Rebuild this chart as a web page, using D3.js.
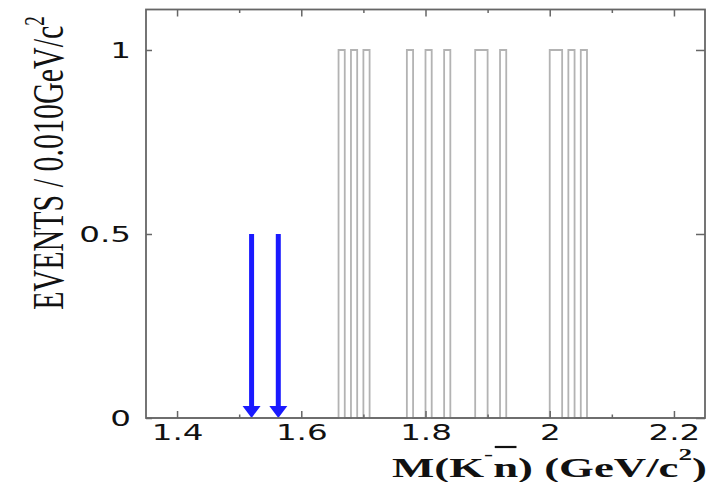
<!DOCTYPE html>
<html>
<head>
<meta charset="utf-8">
<script src="https://cdn.jsdelivr.net/npm/d3@7"></script>
<style>
  html, body { margin: 0; padding: 0; background: #fff; }
  svg { display: block; }
</style>
</head>
<body>
<svg id="chart" width="711" height="482"></svg>
<script>
// Candidate masses, one entry per event (lower edge of its 0.010 GeV/c^2 bin)
const eventBins = [1.66, 1.68, 1.70, 1.77, 1.80, 1.83, 1.88, 1.89, 1.92, 2.00, 2.01, 2.03, 2.05];
const binWidth = 0.010;
const massRange = [1.35, 2.25];
const countRange = [0, 1.11];

// Expected resonance positions marked with arrows
const arrowMasses = [1.520, 1.563];
const arrowTop = 0.5;

// Axis ticks and labels
const xMajorTicks = [1.4, 1.6, 1.8, 2.0, 2.2];
const xMajorLabels = ["1.4", "1.6", "1.8", "2", "2.2"];
const xMinorTicks = [1.5, 1.7, 1.9, 2.1];
const yTicks = [0, 0.5, 1];
const yTickLabels = ["0", "0.5", "1"];

const svg = d3.select("#chart");
const frame = { left: 146, right: 705, top: 9.5, bottom: 418 };

const x = d3.scaleLinear().domain(massRange).range([frame.left, frame.right]);
const y = d3.scaleLinear().domain(countRange).range([frame.bottom, frame.top]);

// Fill the histogram
const nBins = Math.round((massRange[1] - massRange[0]) / binWidth);
const counts = new Array(nBins).fill(0);
eventBins.forEach(m => { counts[Math.round((m - massRange[0]) / binWidth)] += 1; });
const steps = counts.map((c, i) => [massRange[0] + i * binWidth, c]);
steps.push([massRange[1], counts[nBins - 1]]);

const stepLine = d3.line()
  .x(d => x(d[0]))
  .y(d => y(d[1]))
  .curve(d3.curveStepAfter);

svg.append("path")
  .datum(steps)
  .attr("d", stepLine)
  .attr("fill", "none")
  .attr("stroke", "#b3b3b3")
  .attr("stroke-width", 1.8);

// Arrows
const arrowColor = "#1a1aff";
arrowMasses.forEach(m => {
  const ax = x(m);
  svg.append("line")
    .attr("x1", ax).attr("x2", ax)
    .attr("y1", y(arrowTop)).attr("y2", y(0) - 8)
    .attr("stroke", arrowColor).attr("stroke-width", 5);
  svg.append("path")
    .attr("d", `M${ax - 9},${y(0) - 12} L${ax + 9},${y(0) - 12} L${ax},${y(0)} Z`)
    .attr("fill", arrowColor);
});

// Axes with inward ticks (bottom, top, left, right)
const styleAxis = g => {
  g.select(".domain").remove();
  g.selectAll("line").attr("stroke", "#666").attr("stroke-width", 1.5);
};

const xMinor = (axisFn, ty, len) => svg.append("g")
  .attr("transform", `translate(0,${ty})`)
  .call(axisFn(x).tickValues(xMinorTicks).tickSizeInner(len).tickSizeOuter(0).tickFormat(""))
  .call(styleAxis);

xMinor(d3.axisBottom, frame.bottom, -3.5);
xMinor(d3.axisTop, frame.top, -3.5);

svg.append("g")
  .attr("transform", `translate(0,${frame.top})`)
  .call(d3.axisTop(x).tickValues(xMajorTicks).tickSizeInner(-7).tickSizeOuter(0).tickFormat(""))
  .call(styleAxis);

const xAxis = svg.append("g")
  .attr("transform", `translate(0,${frame.bottom})`)
  .call(d3.axisBottom(x).tickValues(xMajorTicks).tickSizeInner(-7).tickSizeOuter(0)
    .tickFormat((d, i) => xMajorLabels[i]))
  .call(styleAxis);
xAxis.selectAll("text")
  .attr("y", 22).attr("dy", 0)
  .attr("transform", "scale(1.48,1)")
  .attr("fill", "#111")
  .style("font-family", "'DejaVu Sans'")
  .style("font-size", "22px");

svg.append("g")
  .attr("transform", `translate(${frame.right},0)`)
  .call(d3.axisRight(y).tickValues(yTicks).tickSizeInner(-9).tickSizeOuter(0).tickFormat(""))
  .call(styleAxis);

const yAxis = svg.append("g")
  .attr("transform", `translate(${frame.left},0)`)
  .call(d3.axisLeft(y).tickValues(yTicks).tickSizeInner(-6).tickSizeOuter(0)
    .tickFormat((d, i) => yTickLabels[i]))
  .call(styleAxis);
yAxis.selectAll("text")
  .attr("x", -15 / 1.48).attr("dy", "0.36em")
  .attr("transform", "scale(1.48,1)")
  .attr("text-anchor", "end")
  .attr("fill", "#111")
  .style("font-family", "'DejaVu Sans'")
  .style("font-size", "22px");

// Frame
svg.append("rect")
  .attr("x", frame.left).attr("y", frame.top)
  .attr("width", frame.right - frame.left).attr("height", frame.bottom - frame.top)
  .attr("fill", "none")
  .attr("stroke", "#666")
  .attr("stroke-width", 1.8);

// Y title
const yTitle = svg.append("g")
  .attr("transform", "translate(63,163) scale(1.5,1) rotate(-90)")
  .append("text")
  .attr("text-anchor", "middle")
  .attr("fill", "#111")
  .style("font-family", "'Liberation Serif'")
  .style("font-size", "30px");
yTitle.append("tspan").text("EVENTS / 0.010GeV/c");
yTitle.append("tspan").attr("dy", -13).style("font-size", "19px").text("2");

// X title: laid out left-to-right from a measured start so the bar can sit over the n
const xScaleTitle = 1.6;
const xTitleG = svg.append("g")
  .attr("transform", `translate(707,477) scale(${xScaleTitle},1)`);
const xTitle = xTitleG.append("text")
  .attr("fill", "#111")
  .style("font-family", "'Liberation Serif'")
  .style("font-weight", "bold")
  .style("font-size", "28px");
xTitle.append("tspan").text("M(K");
xTitle.append("tspan").attr("dy", -17).style("font-size", "17px").text("-");
const nSpan = xTitle.append("tspan").attr("dy", 17).text("n");
xTitle.append("tspan").text(") (GeV/c");
xTitle.append("tspan").attr("dy", -17).style("font-size", "17px").text("2");
xTitle.append("tspan").attr("dy", 17).text(")");

const tn = xTitle.node();
const total = tn.getComputedTextLength();
const before = tn.getSubStringLength(0, 4);
const nWidth = tn.getSubStringLength(4, 1);
xTitle.attr("x", -total);
xTitleG.append("line")
  .attr("x1", -total + before + 1).attr("x2", -total + before + nWidth - 1)
  .attr("y1", -30).attr("y2", -30)
  .attr("stroke", "#111").attr("stroke-width", 2.2);
</script>
</body>
</html>
